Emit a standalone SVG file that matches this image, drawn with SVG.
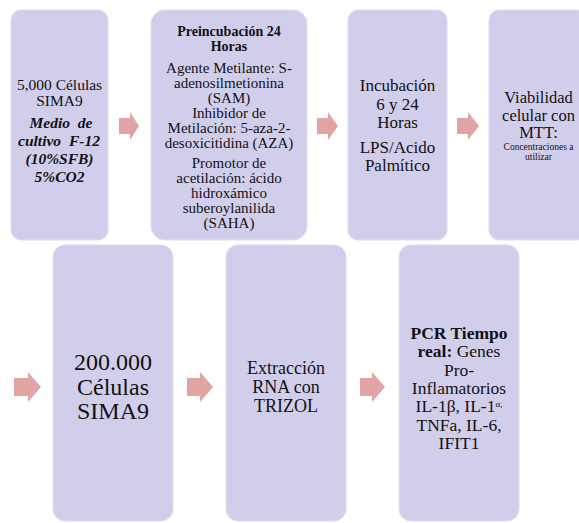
<svg xmlns="http://www.w3.org/2000/svg" width="579" height="523" viewBox="0 0 579 523">
<style>
.box{fill:#D1CEEC;stroke:#DEDCF3;stroke-width:1}
.arr{fill:#E0A4A4}
.t{font-family:'Liberation Serif','Times New Roman',serif;fill:#111;text-anchor:middle}
.b{font-weight:bold}
.bi{font-weight:bold;font-style:italic}
</style>
<rect width="579" height="523" fill="#fff"/>
<g id="connectors">
<path class="arr" d="M119,118 H130 V112 L139,126 L130,140 V134 H119 Z"/>
<path class="arr" d="M317,118 H328 V112 L338,126 L328,140 V134 H317 Z"/>
<path class="arr" d="M457,118 H468 V112 L479,126 L468,140 V134 H457 Z"/>
<path class="arr" d="M14,378 H28 V372 L41,387 L28,402 V396 H14 Z"/>
<path class="arr" d="M187,378 H200 V372 L213,387 L200,402 V396 H187 Z"/>
<path class="arr" d="M360,378 H372 V372 L385,387 L372,402 V396 H360 Z"/>
</g>
<g id="node1">
<rect class="box" x="11" y="10" width="97" height="230" rx="10"/>
<text class="t" font-size="15.5"><tspan x="59.5" y="90">5,000 Células</tspan><tspan x="59.5" y="106">SIMA9</tspan></text>
<text class="t bi" font-size="15.5" word-spacing="4"><tspan x="61" y="128">Medio de</tspan><tspan x="59" y="146">cultivo F-12</tspan><tspan x="59.5" y="164">(10%SFB)</tspan><tspan x="59.5" y="182">5%CO2</tspan></text>
</g>
<g id="node2">
<rect class="box" x="151" y="10" width="156" height="230" rx="14"/>
<text class="t b" font-size="14"><tspan x="229" y="36">Preincubación 24</tspan><tspan x="229" y="51">Horas</tspan></text>
<text class="t" font-size="15"><tspan x="229" y="73">Agente Metilante: S-</tspan><tspan x="229" y="88">adenosilmetionina</tspan><tspan x="229" y="103">(SAM)</tspan><tspan x="229" y="118">Inhibidor de</tspan><tspan x="229" y="133">Metilación: 5-aza-2-</tspan><tspan x="229" y="148">desoxicitidina (AZA)</tspan><tspan x="229" y="168">Promotor de</tspan><tspan x="229" y="183">acetilación: ácido</tspan><tspan x="229" y="198">hidroxámico</tspan><tspan x="229" y="213">suberoylanilida</tspan><tspan x="229" y="228">(SAHA)</tspan></text>
</g>
<g id="node3">
<rect class="box" x="348" y="10" width="99" height="230" rx="10"/>
<text class="t" font-size="17"><tspan x="397.5" y="91">Incubación</tspan><tspan x="397.5" y="110">6 y 24</tspan><tspan x="397.5" y="128">Horas</tspan><tspan x="397.5" y="153">LPS/Acido</tspan><tspan x="397.5" y="171">Palmítico</tspan></text>
</g>
<g id="node4">
<rect class="box" x="489" y="10" width="99" height="230" rx="10"/>
<text class="t" font-size="16.5"><tspan x="538.5" y="103">Viabilidad</tspan><tspan x="538.5" y="120.5">celular con</tspan><tspan x="538.5" y="138">MTT:</tspan></text>
<text class="t" font-size="9.5"><tspan x="538.5" y="150">Concentraciones a</tspan><tspan x="538.5" y="160">utilizar</tspan></text>
</g>
<g id="node5">
<rect class="box" x="53" y="245" width="120" height="276" rx="12"/>
<text class="t" font-size="24"><tspan x="113" y="370">200.000</tspan><tspan x="113" y="395">Células</tspan><tspan x="113" y="419">SIMA9</tspan></text>
</g>
<g id="node6">
<rect class="box" x="226" y="245" width="120" height="276" rx="12"/>
<text class="t" font-size="18"><tspan x="286" y="374">Extracción</tspan><tspan x="286" y="393">RNA con</tspan><tspan x="286" y="412">TRIZOL</tspan></text>
</g>
<g id="node7">
<rect class="box" x="399" y="245" width="120" height="276" rx="12"/>
<text class="t" font-size="17.5"><tspan x="459" y="339" class="b">PCR Tiempo</tspan><tspan x="459" y="357.3"><tspan class="b">real:</tspan> Genes</tspan><tspan x="459" y="375.6">Pro-</tspan><tspan x="459" y="393.9">Inflamatorios</tspan><tspan x="459" y="412.2">IL-1β, IL-1<tspan font-size="9" dy="-5">α,</tspan></tspan><tspan x="459" y="430.5">TNFa, IL-6,</tspan><tspan x="459" y="448.8">IFIT1</tspan></text>
</g>
</svg>
